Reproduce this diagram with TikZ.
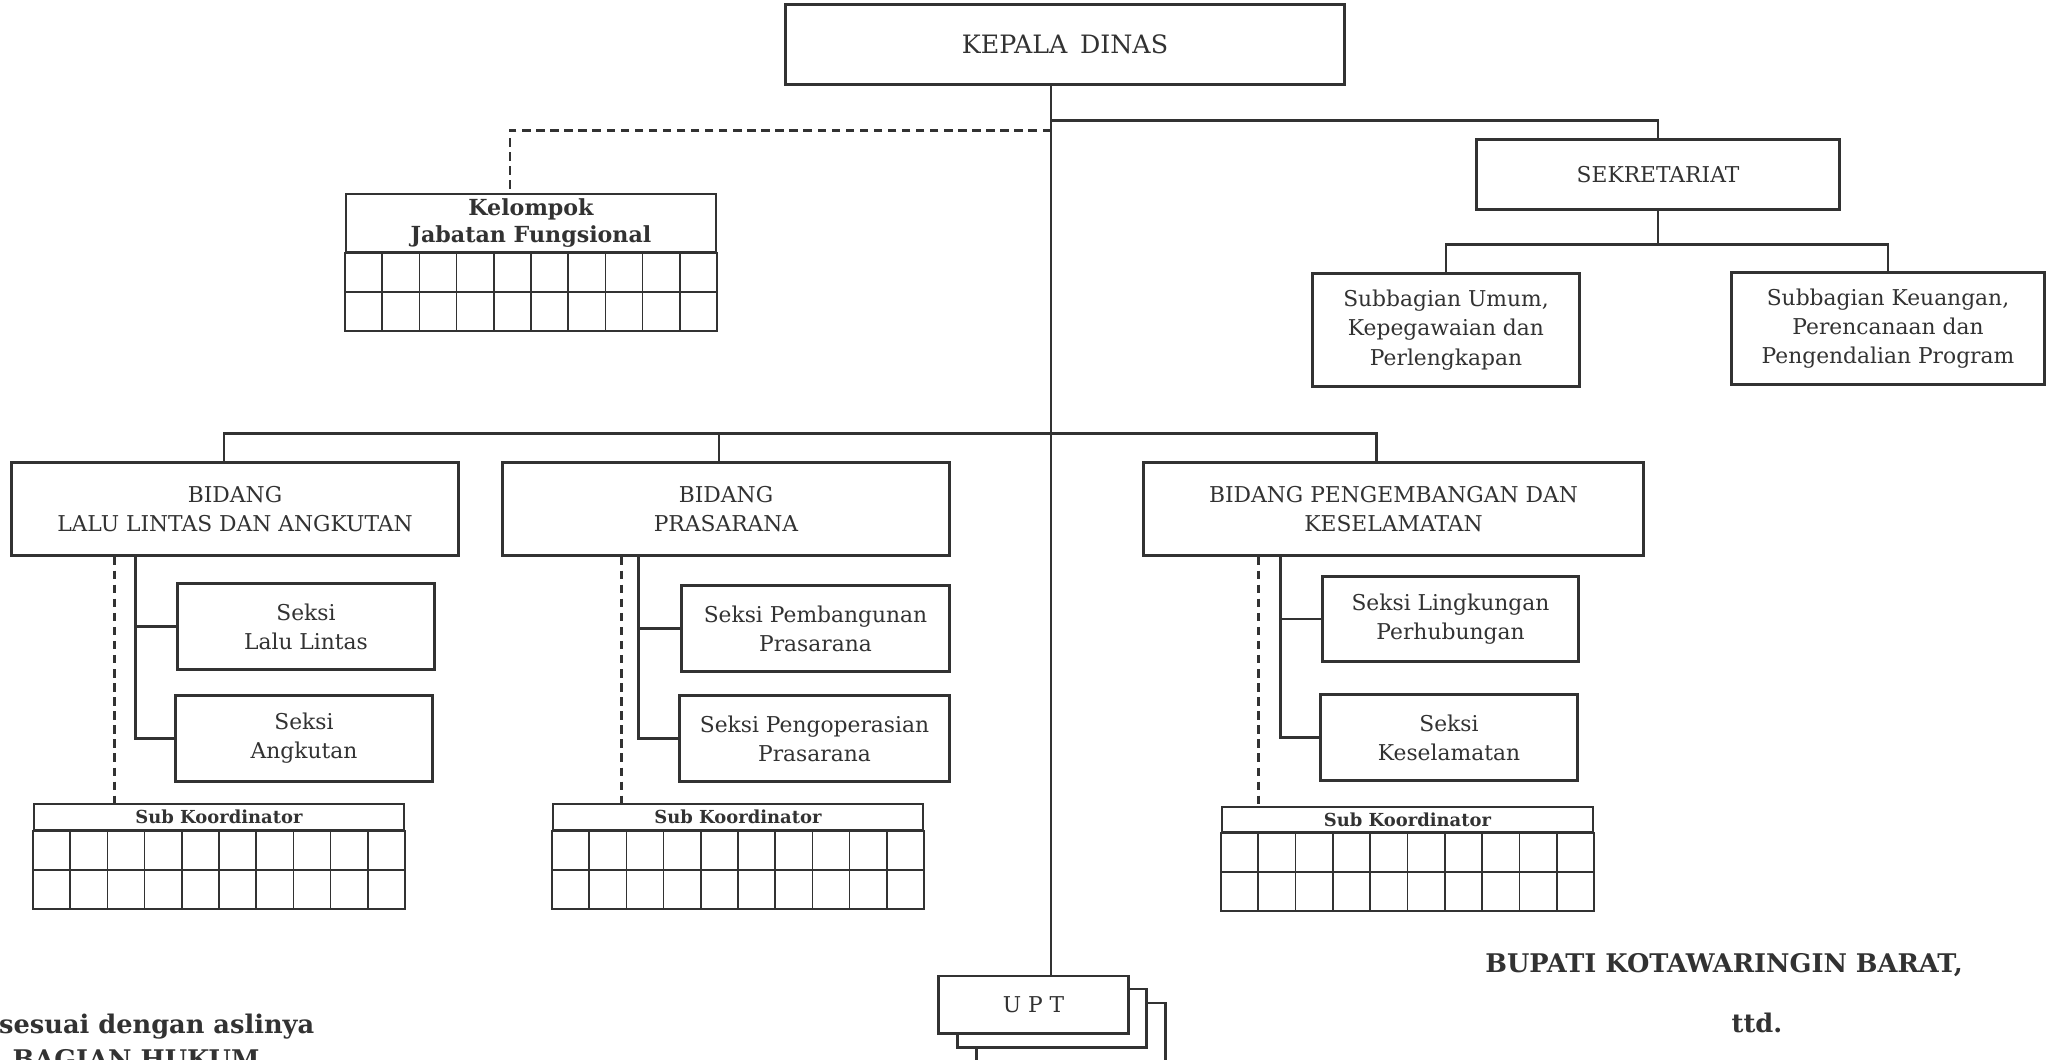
\documentclass[tikz,border=0pt]{standalone}
\usepackage{fontspec}
\setmainfont{DejaVu Serif}
\usetikzlibrary{calc}
\definecolor{ink}{RGB}{50,50,50}
\newcommand{\boxwd}{.85pt}
\newcommand{\cellwd}{.5pt}
% two rows of ten cells hung under a header node
\newcommand{\cells}[1]{
  \draw[line width=\cellwd] (#1.south west) rectangle ($(#1.south east)+(0,78)$);
  \draw[line width=\cellwd] ($(#1.south west)+(0,39)$) -- ($(#1.south east)+(0,39)$);
  \foreach \k in {1,...,9}
    \draw[line width=\cellwd] ($(#1.south west)!\k/10!(#1.south east)$) -- ++(0,78);
}

\begin{document}
\begin{tikzpicture}[x=.01cm, y=-.01cm, color=ink,
    unit/.style={draw, line width=\boxwd, align=center, inner sep=0pt,
      font=\fontsize{6.2}{8.3}\selectfont},
    head/.style={draw, line width=\cellwd, align=center, inner sep=0pt,
      font=\fontsize{5.1}{6}\selectfont\bfseries},
    link/.style={line width=.75pt},
    dashlink/.style={line width=.75pt, dash pattern=on 2.4pt off 1.6pt},
    sign/.style={font=\fontsize{7.3}{9}\selectfont\bfseries, inner sep=0pt}]
    \useasboundingbox (0,0) rectangle (2050,1060);
    \clip (0,0) rectangle (2050,1060);

    % top
        \node (kadis) at (1065,44.5) [unit, minimum width=5.58cm, minimum height=.79cm,
          font=\fontsize{7.2}{9}\selectfont] {KEPALA\enspace DINAS};
        \node (sek) at (1658,174.5) [unit, minimum width=3.62cm, minimum height=.69cm] {SEKRETARIAT};
        \node (sub1) at (1446,330) [unit, minimum width=2.66cm, minimum height=1.12cm]
          {Subbagian Umum,\\Kepegawaian dan\\Perlengkapan};
        \node (sub2) at (1888,328.5) [unit, minimum width=3.12cm, minimum height=1.11cm]
          {Subbagian Keuangan,\\Perencanaan dan\\Pengendalian Program};
        \node (jf) at (531,223) [head, minimum width=3.7cm, minimum height=.58cm,
          font=\fontsize{6.3}{7.7}\selectfont\bfseries] {Kelompok\\Jabatan Fungsional};
        \cells{jf}

    % bidang
        \node (bllaj) at (235,509) [unit, minimum width=4.46cm, minimum height=.92cm]
          {BIDANG\\LALU LINTAS DAN ANGKUTAN};
        \node (bpr) at (726,509) [unit, minimum width=4.46cm, minimum height=.92cm]
          {BIDANG\\PRASARANA};
        \node (bpk) at (1393.5,509) [unit, minimum width=4.99cm, minimum height=.92cm]
          {BIDANG PENGEMBANGAN DAN\\KESELAMATAN};

    % seksi
        \node (sll) at (306,626.5) [unit, minimum width=2.56cm, minimum height=.85cm] {Seksi\\Lalu Lintas};
        \node (sang) at (304,738.5) [unit, minimum width=2.56cm, minimum height=.85cm] {Seksi\\Angkutan};
        \node (spemb) at (815.5,628.5) [unit, minimum width=2.67cm, minimum height=.85cm]
          {Seksi Pembangunan\\Prasarana};
        \node (sopr) at (814.5,738.5) [unit, minimum width=2.69cm, minimum height=.85cm]
          {Seksi Pengoperasian\\Prasarana};
        \node (sling) at (1450.5,619) [unit, minimum width=2.55cm, minimum height=.84cm]
          {Seksi Lingkungan\\Perhubungan};
        \node (skes) at (1449,737.5) [unit, minimum width=2.56cm, minimum height=.85cm]
          {Seksi\\Keselamatan};

    % sub koordinator
        \node (koor1) at (33,803) [head, anchor=north west, minimum width=3.7cm, minimum height=.26cm] {Sub Koordinator};
        \node (koor2) at (552,803) [head, anchor=north west, minimum width=3.7cm, minimum height=.26cm] {Sub Koordinator};
        \node (koor3) at (1221,806) [head, anchor=north west, minimum width=3.71cm, minimum height=.25cm] {Sub Koordinator};
        \cells{koor1}
        \cells{koor2}
        \cells{koor3}

    % upt, stacked
        \node (upt3) at (1071,1032) [unit, fill=white, minimum width=1.88cm, minimum height=.58cm] {};
        \node (upt2) at (1052,1018) [unit, fill=white, minimum width=1.88cm, minimum height=.58cm] {};
        \node (upt) at (1033.5,1004.5) [unit, fill=white, minimum width=1.89cm, minimum height=.57cm] {U P T};

    % lines
        \coordinate (trunk) at ($(kadis.south)+(-14,0)$);
        \draw[link] (trunk) -- (trunk |- upt.north);
        \draw[link] ($(trunk)+(0,35)$) -| (sek.north);
        \draw[link] (sek.south) -- ++(0,34) coordinate (sekbar);
        \draw[link] (sub1.north) |- (sekbar) -| (sub2.north);
        \draw[dashlink] ($(trunk)+(0,45)$) -| ($(jf.north)+(-21,-4)$);
        \draw[link] ($(bllaj.north)+(-11,0)$) |- ($(bpk.north)+(-17,-28)$) -- ($(bpk.north)+(-17,0)$);
        \draw[link] ($(bpr.north)+(-7,0)$) -- ++(0,-28);

        \draw[link] (sll.west) -- ++(-41,0) coordinate (sp1) |- (sang.west);
        \draw[link] (sp1) -- (sp1 |- bllaj.south);
        \draw[link] (spemb.west) -- ++(-42,0) coordinate (sp2) |- (sopr.west);
        \draw[link] (sp2) -- (sp2 |- bpr.south);
        \draw[link] (sling.west) -- ++(-41,0) coordinate (sp3) |- (skes.west);
        \draw[link] (sp3) -- (sp3 |- bpk.south);

        \coordinate (dk1) at ($(sll.west)+(-62,0)$);
        \coordinate (dk2) at ($(spemb.west)+(-59,0)$);
        \coordinate (dk3) at ($(sling.west)+(-63,0)$);
        \draw[dashlink] (dk1 |- bllaj.south) -- (dk1 |- koor1.north);
        \draw[dashlink] (dk2 |- bpr.south) -- (dk2 |- koor2.north);
        \draw[dashlink] (dk3 |- bpk.south) -- (dk3 |- koor3.north);

    % signatures
        \node (salinan) at (315,1033) [sign, anchor=base east] {sesuai dengan aslinya};
        \node (hukum) at (12,1068) [sign, anchor=base west] {BAGIAN HUKUM};
        \node (bupati) at (1724,972) [sign, anchor=base] {BUPATI KOTAWARINGIN BARAT,};
        \node (ttd) at (1757,1032) [sign, anchor=base] {ttd.};
\end{tikzpicture}
\end{document}
